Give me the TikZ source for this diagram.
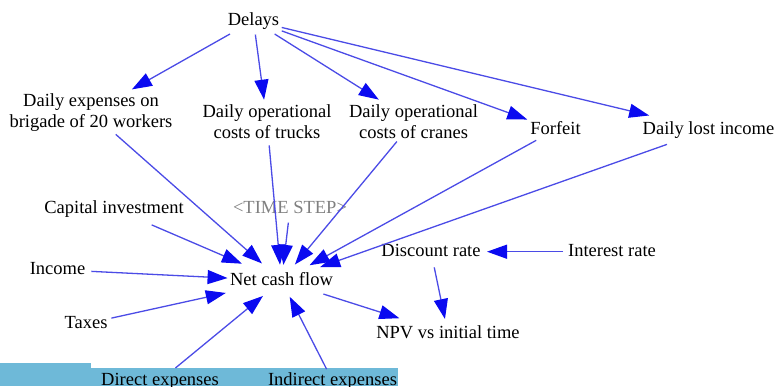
\documentclass[tikz,border=0pt]{standalone}
\usepackage{fontspec}
\setmainfont{Liberation Serif}
\usetikzlibrary{arrows.meta}
\definecolor{lineblue}{RGB}{75,75,230}
\definecolor{tipblue}{RGB}{10,10,240}
\definecolor{band}{RGB}{110,185,216}
\definecolor{shadow}{RGB}{128,128,128}
\begin{document}
\begin{tikzpicture}[x=1pt,y=-1pt,
  lbl/.style={font=\fontsize{18.5}{21.5}\selectfont, inner sep=0pt, outer sep=0pt,
    text height=12.6pt, text depth=4pt, anchor=base},
  lbltwo/.style={font=\fontsize{18.5}{21.5}\selectfont, inner sep=0pt, outer sep=0pt,
    align=center, anchor=center},
  arr/.style={draw=lineblue, line width=1.3pt,
    -{Triangle[length=20pt,width=14pt,color=tipblue]}}]
\useasboundingbox (0,0) rectangle (776,386);
\fill[band] (0,363) rectangle (91,386);
\fill[band] (91,368) rectangle (398,386);

\node[lbl] (delays) at (253.5,25) {Delays};
\node[lbltwo] (brigade) at (91,112.5) {Daily expenses on\\brigade of 20 workers};
\node[lbltwo] (trucks) at (267,121.5) {Daily operational\\costs of trucks};
\node[lbltwo] (cranes) at (413.5,121.5) {Daily operational\\costs of cranes};
\node[lbl] (forfeit) at (555.5,134) {Forfeit};
\node[lbl] (lost) at (708.5,134) {Daily lost income};
\node[lbl] (capital) at (114,213) {Capital investment};
\node[lbl, text=shadow] (timestep) at (290,213) {<TIME STEP>};
\node[lbl] (income) at (57.5,274) {Income};
\node[lbl] (ncf) at (281.5,285) {Net cash flow};
\node[lbl] (taxes) at (86,328) {Taxes};
\node[lbl] (discount) at (431,256) {Discount rate};
\node[lbl] (interest) at (612,256) {Interest rate};
\node[lbl] (npv) at (448,338) {NPV vs initial time};
\node[lbl] (direct) at (160,385) {Direct expenses};
\node[lbl] (indirect) at (332.5,385) {Indirect expenses};

\draw[arr, shorten <=27pt, shorten >=47pt] (delays.center) -- (brigade.center);
\draw[arr, shorten <=14pt, shorten >=22pt] (delays.center) -- (trucks.center);
\draw[arr, shorten <=25pt, shorten >=41pt] (delays.center) -- (cranes.center);
\draw[arr, shorten <=30pt, shorten >=30pt] (delays.center) -- (forfeit.center);
\draw[arr, shorten <=29pt, shorten >=61pt] (delays.center) -- (lost.center);

\draw[arr, shorten <=33pt, shorten >=26pt] (brigade.center) -- (ncf.center);
\draw[arr, shorten <=24pt, shorten >=16pt] (trucks.center) -- (ncf.center);
\draw[arr, shorten <=26pt, shorten >=21pt] (cranes.center) -- (ncf.center);
\draw[arr, shorten <=22pt, shorten >=32pt] (forfeit.center) -- (ncf.center);
\draw[arr, shorten <=44pt, shorten >=41pt] (lost.center) -- (ncf.center);
\draw[arr, shorten <=14pt, shorten >=16pt] (timestep.center) -- (ncf.center);
\draw[arr, shorten <=41pt, shorten >=43pt] (capital.center) -- (ncf.center);
\draw[arr, shorten <=34pt, shorten >=54pt] (income.center) -- (ncf.center);
\draw[arr, shorten <=26pt, shorten >=57pt] (taxes.center) -- (ncf.center);
\draw[arr, shorten <=20pt, shorten >=24pt] (direct.center) -- (ncf.center);
\draw[arr, shorten <=13pt, shorten >=18pt] (indirect.center) -- (ncf.center);
\draw[arr, shorten <=44pt, shorten >=51pt] (ncf.center) -- (npv.center);
\draw[arr, shorten <=49pt, shorten >=56pt] (interest.center) -- (discount.center);
\draw[arr, shorten <=16pt, shorten >=15pt] (discount.center) -- (npv.center);
\end{tikzpicture}
\end{document}
